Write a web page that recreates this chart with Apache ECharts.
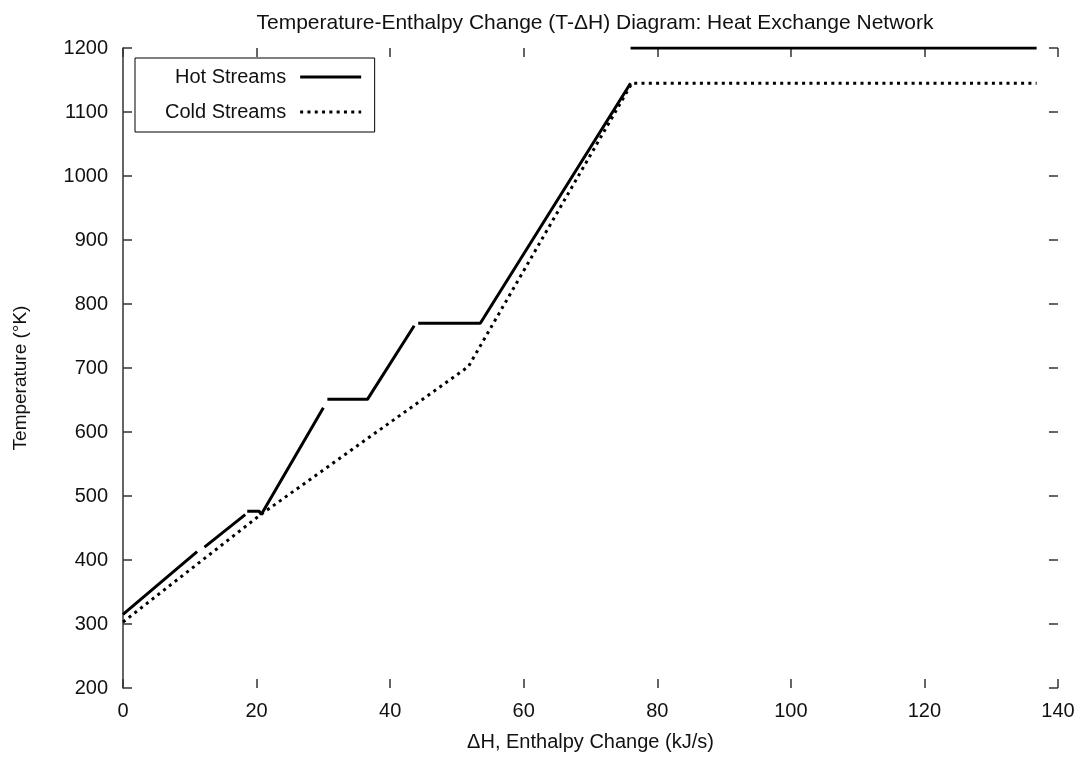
<!DOCTYPE html>
<html>
<head>
<meta charset="utf-8">
<script src="https://cdn.jsdelivr.net/npm/echarts@6/dist/echarts.min.js"></script>
<style>
  html, body { margin: 0; padding: 0; background: #fff; }
  #chart { width: 1085px; height: 757px; }
</style>
</head>
<body>
<div id="chart"></div>
<script>
// hot composite curve, null marks a break between plotted segments
var hotDH = [0, 11.1, null, 12.2, 18.3, null, 18.6, 20.4, 20.7, 30.0, null, 30.6, 36.6, 43.6, null, 44.2, 53.5, 76.0, null, 76.0, 136.8];
var hotT  = [315, 413, null, 420, 471, null, 476, 476, 471, 638, null, 651, 651, 766, null, 770, 770, 1145, null, 1200, 1200];

// cold composite curve
var coldDH = [0, 20.5, 51.7, 76.2, 136.8];
var coldT  = [303, 470, 702, 1145, 1145];

var xTicks = [0, 20, 40, 60, 80, 100, 120, 140];
var yTicks = [200, 300, 400, 500, 600, 700, 800, 900, 1000, 1100, 1200];

function zip(xs, ys) {
	var out = [];
	for (var i = 0; i < xs.length; i++) {
		out.push([xs[i], ys[i]]);
	}
	return out;
}

var font = 'Liberation Sans';
var tickColor = '#333';
var tickStyle = { show: true, inside: true, length: 9, lineStyle: { color: tickColor, width: 1.5 } };

var chart = echarts.init(document.getElementById('chart'));

chart.setOption({
	animation: false,
	textStyle: { fontFamily: font },
	title: {
		text: 'Temperature-Enthalpy Change (T-\u0394H) Diagram: Heat Exchange Network',
		left: 590,
		textAlign: 'center',
		top: 8,
		textStyle: { fontFamily: font, fontSize: 21, fontWeight: 'normal', color: '#111' }
	},
	grid: { left: 123, right: 27, top: 48, bottom: 68 },
	legend: {
		orient: 'vertical',
		align: 'right',
		left: 135,
		top: 58,
		padding: [9, 12, 10, 30],
		itemGap: 15,
		itemWidth: 61,
		itemHeight: 14,
		backgroundColor: '#fff',
		borderColor: '#000',
		borderWidth: 1,
		borderRadius: 0,
		itemStyle: { opacity: 0 },
		lineStyle: { width: 3 },
		textStyle: { fontFamily: font, fontSize: 20, color: '#111', padding: [0, 9, 0, 0] },
		data: ['Hot Streams', 'Cold Streams']
	},
	xAxis: [{
		type: 'value',
		min: xTicks[0],
		max: xTicks[xTicks.length - 1],
		interval: 20,
		name: '\u0394H, Enthalpy Change (kJ/s)',
		nameLocation: 'middle',
		nameGap: 44,
		nameTextStyle: { fontFamily: font, fontSize: 20, color: '#111' },
		axisLine: { show: false, onZero: false },
		axisTick: tickStyle,
		axisLabel: { margin: 13, fontFamily: font, fontSize: 20, color: '#111' },
		splitLine: { show: false }
	}, {
		type: 'value',
		position: 'top',
		min: xTicks[0],
		max: xTicks[xTicks.length - 1],
		interval: 20,
		axisLine: { show: false, onZero: false },
		axisTick: tickStyle,
		axisLabel: { show: false },
		splitLine: { show: false }
	}],
	yAxis: [{
		type: 'value',
		min: yTicks[0],
		max: yTicks[yTicks.length - 1],
		interval: 100,
		name: 'Temperature (\u00b0K)',
		nameLocation: 'middle',
		nameGap: 93,
		nameTextStyle: { fontFamily: font, fontSize: 19, color: '#111', padding: [0, 20, 0, 0] },
		axisLine: { show: true, onZero: false, lineStyle: { color: tickColor, width: 1.5 } },
		axisTick: tickStyle,
		axisLabel: { margin: 15, fontFamily: font, fontSize: 20, color: '#111', formatter: function (v) { return String(v); } },
		splitLine: { show: false }
	}, {
		type: 'value',
		position: 'right',
		min: yTicks[0],
		max: yTicks[yTicks.length - 1],
		interval: 100,
		axisLine: { show: false, onZero: false },
		axisTick: tickStyle,
		axisLabel: { show: false },
		splitLine: { show: false }
	}],
	series: [{
		name: 'Hot Streams',
		type: 'line',
		data: zip(hotDH, hotT),
		symbol: 'none',
		connectNulls: false,
		color: '#000',
		lineStyle: { color: '#000', width: 3 },
		z: 3
	}, {
		name: 'Cold Streams',
		type: 'line',
		data: zip(coldDH, coldT),
		symbol: 'none',
		color: '#000',
		lineStyle: { color: '#000', width: 3, type: [3, 4.3] },
		z: 4
	}]
});
</script>
</body>
</html>
